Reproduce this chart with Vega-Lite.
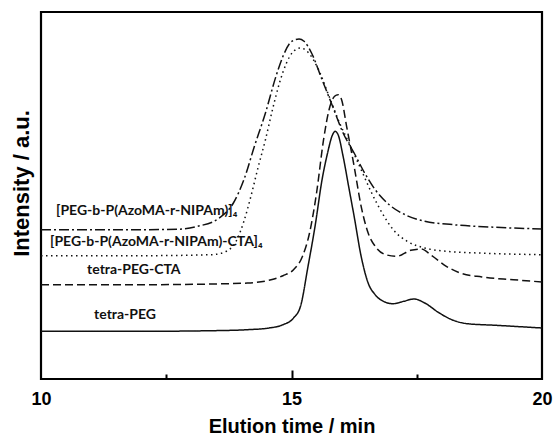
{
  "$schema": "https://vega.github.io/schema/vega-lite/v6.json",
  "autosize": "none",
  "width": 501,
  "height": 367,
  "padding": {"left": 41, "top": 12, "right": 13, "bottom": 56},
  "background": "white",
  "config": {
    "view": {"stroke": "#000", "strokeWidth": 2.2},
    "font": "Liberation Sans"
  },
  "resolve": {"axis": {"x": "independent"}},
  "datasets": {
    "curves": [
      {"t": 10.0, "v": 47.7, "s": "tetra-PEG"},
      {"t": 12.0, "v": 47.7, "s": "tetra-PEG"},
      {"t": 13.41, "v": 48.3, "s": "tetra-PEG"},
      {"t": 14.12, "v": 49.3, "s": "tetra-PEG"},
      {"t": 14.55, "v": 51, "s": "tetra-PEG"},
      {"t": 14.83, "v": 54.3, "s": "tetra-PEG"},
      {"t": 15.04, "v": 61, "s": "tetra-PEG"},
      {"t": 15.18, "v": 72.7, "s": "tetra-PEG"},
      {"t": 15.33, "v": 112.7, "s": "tetra-PEG"},
      {"t": 15.47, "v": 152.7, "s": "tetra-PEG"},
      {"t": 15.61, "v": 199.3, "s": "tetra-PEG"},
      {"t": 15.72, "v": 226, "s": "tetra-PEG"},
      {"t": 15.82, "v": 244.3, "s": "tetra-PEG"},
      {"t": 15.87, "v": 247.7, "s": "tetra-PEG"},
      {"t": 15.93, "v": 244.3, "s": "tetra-PEG"},
      {"t": 16.03, "v": 222.7, "s": "tetra-PEG"},
      {"t": 16.14, "v": 192.7, "s": "tetra-PEG"},
      {"t": 16.25, "v": 162.7, "s": "tetra-PEG"},
      {"t": 16.39, "v": 122.7, "s": "tetra-PEG"},
      {"t": 16.53, "v": 96, "s": "tetra-PEG"},
      {"t": 16.67, "v": 84.3, "s": "tetra-PEG"},
      {"t": 16.81, "v": 78.3, "s": "tetra-PEG"},
      {"t": 17.03, "v": 75.3, "s": "tetra-PEG"},
      {"t": 17.24, "v": 77.7, "s": "tetra-PEG"},
      {"t": 17.45, "v": 80, "s": "tetra-PEG"},
      {"t": 17.66, "v": 76, "s": "tetra-PEG"},
      {"t": 17.95, "v": 66, "s": "tetra-PEG"},
      {"t": 18.23, "v": 58.7, "s": "tetra-PEG"},
      {"t": 18.51, "v": 55.3, "s": "tetra-PEG"},
      {"t": 19.08, "v": 53.7, "s": "tetra-PEG"},
      {"t": 20.0, "v": 51, "s": "tetra-PEG"},

      {"t": 10.0, "v": 94.3, "s": "tetra-PEG-CTA"},
      {"t": 12.0, "v": 94.3, "s": "tetra-PEG-CTA"},
      {"t": 13.41, "v": 95, "s": "tetra-PEG-CTA"},
      {"t": 14.12, "v": 96, "s": "tetra-PEG-CTA"},
      {"t": 14.55, "v": 98.7, "s": "tetra-PEG-CTA"},
      {"t": 14.83, "v": 103.3, "s": "tetra-PEG-CTA"},
      {"t": 15.04, "v": 109.3, "s": "tetra-PEG-CTA"},
      {"t": 15.22, "v": 122.7, "s": "tetra-PEG-CTA"},
      {"t": 15.36, "v": 146, "s": "tetra-PEG-CTA"},
      {"t": 15.5, "v": 186, "s": "tetra-PEG-CTA"},
      {"t": 15.64, "v": 239.3, "s": "tetra-PEG-CTA"},
      {"t": 15.75, "v": 269.3, "s": "tetra-PEG-CTA"},
      {"t": 15.86, "v": 282.7, "s": "tetra-PEG-CTA"},
      {"t": 15.93, "v": 284.3, "s": "tetra-PEG-CTA"},
      {"t": 16.0, "v": 279.3, "s": "tetra-PEG-CTA"},
      {"t": 16.1, "v": 252.7, "s": "tetra-PEG-CTA"},
      {"t": 16.25, "v": 212.7, "s": "tetra-PEG-CTA"},
      {"t": 16.39, "v": 172.7, "s": "tetra-PEG-CTA"},
      {"t": 16.53, "v": 146, "s": "tetra-PEG-CTA"},
      {"t": 16.67, "v": 132.7, "s": "tetra-PEG-CTA"},
      {"t": 16.88, "v": 124.3, "s": "tetra-PEG-CTA"},
      {"t": 17.1, "v": 122.7, "s": "tetra-PEG-CTA"},
      {"t": 17.38, "v": 128.7, "s": "tetra-PEG-CTA"},
      {"t": 17.59, "v": 130, "s": "tetra-PEG-CTA"},
      {"t": 17.8, "v": 123.3, "s": "tetra-PEG-CTA"},
      {"t": 18.09, "v": 112.7, "s": "tetra-PEG-CTA"},
      {"t": 18.37, "v": 106, "s": "tetra-PEG-CTA"},
      {"t": 18.8, "v": 102, "s": "tetra-PEG-CTA"},
      {"t": 19.43, "v": 99.3, "s": "tetra-PEG-CTA"},
      {"t": 20.0, "v": 97, "s": "tetra-PEG-CTA"},

      {"t": 10.0, "v": 123.3, "s": "copolymer-CTA"},
      {"t": 12.0, "v": 123.3, "s": "copolymer-CTA"},
      {"t": 13.41, "v": 124.3, "s": "copolymer-CTA"},
      {"t": 13.7, "v": 127.7, "s": "copolymer-CTA"},
      {"t": 13.91, "v": 139.3, "s": "copolymer-CTA"},
      {"t": 14.05, "v": 157.7, "s": "copolymer-CTA"},
      {"t": 14.19, "v": 182.7, "s": "copolymer-CTA"},
      {"t": 14.33, "v": 211, "s": "copolymer-CTA"},
      {"t": 14.48, "v": 239.3, "s": "copolymer-CTA"},
      {"t": 14.62, "v": 269.3, "s": "copolymer-CTA"},
      {"t": 14.76, "v": 296, "s": "copolymer-CTA"},
      {"t": 14.9, "v": 316, "s": "copolymer-CTA"},
      {"t": 15.04, "v": 327.7, "s": "copolymer-CTA"},
      {"t": 15.18, "v": 331, "s": "copolymer-CTA"},
      {"t": 15.33, "v": 326.7, "s": "copolymer-CTA"},
      {"t": 15.54, "v": 309.3, "s": "copolymer-CTA"},
      {"t": 15.75, "v": 282.7, "s": "copolymer-CTA"},
      {"t": 15.96, "v": 256, "s": "copolymer-CTA"},
      {"t": 16.18, "v": 232.7, "s": "copolymer-CTA"},
      {"t": 16.39, "v": 209.3, "s": "copolymer-CTA"},
      {"t": 16.6, "v": 186, "s": "copolymer-CTA"},
      {"t": 16.81, "v": 166, "s": "copolymer-CTA"},
      {"t": 17.03, "v": 149.3, "s": "copolymer-CTA"},
      {"t": 17.31, "v": 137.7, "s": "copolymer-CTA"},
      {"t": 17.66, "v": 131, "s": "copolymer-CTA"},
      {"t": 18.09, "v": 127.7, "s": "copolymer-CTA"},
      {"t": 18.73, "v": 126, "s": "copolymer-CTA"},
      {"t": 20.0, "v": 124.3, "s": "copolymer-CTA"},

      {"t": 10.0, "v": 149.3, "s": "copolymer"},
      {"t": 12.0, "v": 149.3, "s": "copolymer"},
      {"t": 12.71, "v": 149.7, "s": "copolymer"},
      {"t": 13.13, "v": 152.7, "s": "copolymer"},
      {"t": 13.56, "v": 161, "s": "copolymer"},
      {"t": 13.84, "v": 176, "s": "copolymer"},
      {"t": 14.05, "v": 199.3, "s": "copolymer"},
      {"t": 14.26, "v": 232.7, "s": "copolymer"},
      {"t": 14.48, "v": 266, "s": "copolymer"},
      {"t": 14.69, "v": 302.7, "s": "copolymer"},
      {"t": 14.83, "v": 322.7, "s": "copolymer"},
      {"t": 14.97, "v": 336, "s": "copolymer"},
      {"t": 15.08, "v": 339.3, "s": "copolymer"},
      {"t": 15.15, "v": 340, "s": "copolymer"},
      {"t": 15.25, "v": 337.7, "s": "copolymer"},
      {"t": 15.4, "v": 326, "s": "copolymer"},
      {"t": 15.61, "v": 299.3, "s": "copolymer"},
      {"t": 15.82, "v": 272.7, "s": "copolymer"},
      {"t": 16.03, "v": 246, "s": "copolymer"},
      {"t": 16.25, "v": 226, "s": "copolymer"},
      {"t": 16.46, "v": 206, "s": "copolymer"},
      {"t": 16.67, "v": 189.3, "s": "copolymer"},
      {"t": 16.95, "v": 174.3, "s": "copolymer"},
      {"t": 17.31, "v": 163.3, "s": "copolymer"},
      {"t": 17.66, "v": 157.7, "s": "copolymer"},
      {"t": 18.23, "v": 154.3, "s": "copolymer"},
      {"t": 19.08, "v": 151.7, "s": "copolymer"},
      {"t": 20.0, "v": 150, "s": "copolymer"}
    ],
    "labelsTop": [
      {"t": 10.3, "v": 168.3, "label": "[PEG-b-P(AzoMA-r-NIPAm)]₄"},
      {"t": 10.18, "v": 137.3, "label": "[PEG-b-P(AzoMA-r-NIPAm)-CTA]₄"}
    ],
    "labelsBottom": [
      {"t": 10.92, "v": 109, "label": "tetra-PEG-CTA"},
      {"t": 11.06, "v": 64, "label": "tetra-PEG"}
    ]
  },
  "layer": [
    {
      "data": {"name": "curves"},
      "mark": {"type": "line", "interpolate": "monotone", "strokeWidth": 1.5, "color": "#111", "clip": true},
      "encoding": {
        "x": {
          "field": "t", "type": "quantitative",
          "scale": {"domain": [10, 20], "nice": false, "zero": false},
          "axis": {
            "orient": "bottom",
            "values": [10, 15, 20],
            "domain": false,
            "grid": false,
            "ticks": false,
            "tickSize": 0,
            "labelPadding": 11,
            "labelFont": "Liberation Sans",
            "labelFontSize": 18,
            "labelFontWeight": "bold",
            "labelColor": "#000",
            "labelFlush": false,
            "title": "Elution time / min",
            "titleFont": "Liberation Sans",
            "titleFontSize": 20,
            "titleFontWeight": "bold",
            "titleColor": "#000",
            "titlePadding": 8
          }
        },
        "y": {
          "field": "v", "type": "quantitative",
          "scale": {"domain": [0, 367], "nice": false, "zero": false},
          "axis": {
            "domain": false, "ticks": false, "labels": false, "grid": false,
            "title": "Intensity / a.u.",
            "titleFont": "Liberation Sans",
            "titleFontSize": 22,
            "titleFontWeight": "bold",
            "titleColor": "#000",
            "titlePadding": 8,
            "titleY": 171
          }
        },
        "detail": {"field": "s"},
        "strokeDash": {
          "field": "s", "type": "nominal", "legend": null,
          "scale": {
            "domain": ["tetra-PEG", "tetra-PEG-CTA", "copolymer-CTA", "copolymer"],
            "range": [[1, 0], [8, 4], [1.5, 3.5], [10, 3, 2, 3]]
          }
        }
      }
    },
    {
      "data": {"name": "labelsTop"},
      "mark": {"type": "text", "align": "left", "baseline": "middle", "font": "Lato", "fontWeight": "bold", "fontSize": 14, "color": "#111"},
      "encoding": {
        "x": {
          "field": "t", "type": "quantitative",
          "scale": {"domain": [10, 20], "nice": false, "zero": false},
          "axis": {
            "orient": "bottom",
            "values": [15],
            "offset": -9,
            "domain": false, "grid": false, "labels": false,
            "tickColor": "#000", "tickWidth": 2, "tickSize": 9,
            "title": null
          }
        },
        "y": {"field": "v", "type": "quantitative"},
        "text": {"field": "label"}
      }
    },
    {
      "data": {"name": "labelsBottom"},
      "mark": {"type": "text", "align": "left", "baseline": "middle", "font": "Lato", "fontWeight": "bold", "fontSize": 14, "color": "#111"},
      "encoding": {
        "x": {
          "field": "t", "type": "quantitative",
          "scale": {"domain": [10, 20], "nice": false, "zero": false},
          "axis": {
            "orient": "bottom",
            "values": [12.5, 17.5],
            "offset": -5,
            "domain": false, "grid": false, "labels": false,
            "tickColor": "#000", "tickWidth": 2, "tickSize": 5,
            "title": null
          }
        },
        "y": {"field": "v", "type": "quantitative"},
        "text": {"field": "label"}
      }
    }
  ]
}
